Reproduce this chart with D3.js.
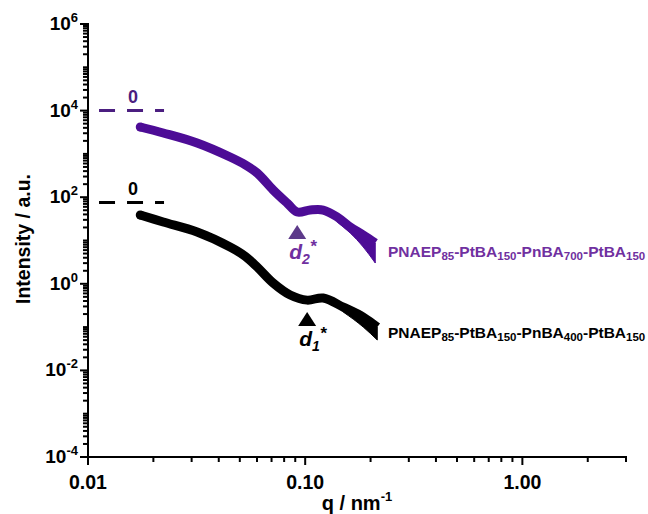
<!DOCTYPE html>
<html>
<head>
<meta charset="utf-8">
<script src="https://cdn.jsdelivr.net/npm/d3@7"></script>
<style>
  body { margin: 0; background: #fff; }
  svg { display: block; font-family: "Liberation Sans", Arial, sans-serif; font-weight: bold; }
</style>
</head>
<body>
<svg id="chart" width="648" height="514"></svg>
<script>
// SAXS curves (q in nm^-1, intensity in a.u.)
const qPurple = [0.0174, 0.0222, 0.0318, 0.0451, 0.0530, 0.0601, 0.0712, 0.0826, 0.0919, 0.1054, 0.1210, 0.1404, 0.1611, 0.1850, 0.2102];
const iPurple = [4180, 3040, 1785, 848, 560, 362, 147, 73, 45.5, 50.6, 50.6, 34.9, 20.5, 13.4, 8.75];
const qBlack = [0.0174, 0.0222, 0.0318, 0.0451, 0.0530, 0.0601, 0.0712, 0.0853, 0.1021, 0.1210, 0.1497, 0.1850, 0.2147];
const iBlack = [38.8, 26.7, 15.7, 7.07, 4.3, 2.44, 1.04, 0.55, 0.42, 0.47, 0.29, 0.171, 0.10];

// noisy high-q tail: lower edge of the point cloud (upper edge = curve)
const qTailPurple = [0.1404, 0.1611, 0.1850, 0.2102];
const purpleLo = [26.7, 14.9, 7.08, 3.02];
const qTailBlack = [0.1497, 0.1850, 0.2147];
const blackLo = [0.223, 0.1005, 0.0504];

// zero-level reference lines and peak markers
const zeroPurple = 1e4, zeroBlack = 75;
const zeroQ = [0.01124, 0.02239];
const peakQ = [0.0919, 0.1021];      // d2*, d1*
const peakI = [22.8, 0.223];

const yTicks = [1e-4, 1e-2, 1, 1e2, 1e4, 1e6];
const yExp = ["-4", "-2", "0", "2", "4", "6"];
const xTicks = [0.01, 0.1, 1];
const xLabels = ["0.01", "0.10", "1.00"];

const purple = "#4d0c96", purpleText = "#7030a0", purpleMark = "#5d3a8a";

const svg = d3.select("#chart");
const x = d3.scaleLog().domain([0.01, 3]).range([88, 626]);
const y = d3.scaleLog().domain([1e-4, 1e6]).range([457, 24]);

// minor ticks 2..9 of every decade
const minorX = [], minorY = [];
for (let e = -2; e <= 0; e++) for (let k = 1; k <= 9; k++) {
  const v = k * Math.pow(10, e);
  if (v <= 3 && !xTicks.includes(v)) minorX.push(v);
}
for (let e = -4; e < 6; e++) for (let k = 1; k <= 9; k++) {
  const v = k * Math.pow(10, e);
  if (!yTicks.some(t => Math.abs(t - v) / v < 1e-9)) minorY.push(v);
}

const axes = svg.append("g").attr("stroke", "#000").attr("stroke-width", 2);
axes.append("line").attr("x1", 88).attr("x2", 88).attr("y1", 23).attr("y2", 458);
axes.append("line").attr("x1", 87).attr("x2", 627).attr("y1", 457).attr("y2", 457);
axes.selectAll(".mx").data(minorX).enter().append("line")
  .attr("x1", d => x(d)).attr("x2", d => x(d)).attr("y1", 457).attr("y2", 462);
axes.selectAll(".Mx").data(xTicks).enter().append("line")
  .attr("x1", d => x(d)).attr("x2", d => x(d)).attr("y1", 457).attr("y2", 465);
axes.selectAll(".my").data(minorY).enter().append("line")
  .attr("y1", d => y(d)).attr("y2", d => y(d)).attr("x1", 88).attr("x2", 83);
axes.selectAll(".My").data(yTicks).enter().append("line")
  .attr("y1", d => y(d)).attr("y2", d => y(d)).attr("x1", 88).attr("x2", 80);

svg.selectAll(".xl").data(xTicks).enter().append("text")
  .attr("x", d => x(d)).attr("y", 489).attr("text-anchor", "middle")
  .attr("font-size", 19.5).text((d, i) => xLabels[i]);

const yl = svg.selectAll(".yl").data(yTicks).enter().append("text")
  .attr("x", 78).attr("y", d => y(d) + 6).attr("text-anchor", "end").attr("font-size", 19);
yl.append("tspan").text("10");
yl.append("tspan").attr("font-size", 13).attr("dy", -8).text((d, i) => yExp[i]);

const xt = svg.append("text").attr("x", 357).attr("y", 510).attr("text-anchor", "middle").attr("font-size", 20);
xt.append("tspan").text("q / nm");
xt.append("tspan").attr("font-size", 13).attr("dy", -9).text("-1");

svg.append("text").attr("transform", "translate(30,239) rotate(-90)")
  .attr("text-anchor", "middle").attr("font-size", 19.5).text("Intensity / a.u.");

// zero levels
const zeros = [[zeroPurple, "#4b1e80"], [zeroBlack, "#000"]];
zeros.forEach(([v, c]) => {
  svg.append("line").attr("x1", x(zeroQ[0])).attr("x2", x(zeroQ[1]))
    .attr("y1", y(v)).attr("y2", y(v)).attr("stroke", c).attr("stroke-width", 3)
    .attr("stroke-dasharray", "16,12");
  svg.append("text").attr("x", x(0.01612)).attr("y", y(v) - 8)
    .attr("text-anchor", "middle").attr("font-size", 18).attr("fill", c).text("0");
});

// curves
const line = d3.line().x(d => x(d[0])).y(d => y(d[1])).curve(d3.curveCatmullRom.alpha(0.5));
const area = d3.area().x(d => x(d[0])).y0(d => y(d[2])).y1(d => y(d[1])).curve(d3.curveMonotoneX);
const series = [
  [qPurple, iPurple, qTailPurple, purpleLo, purple],
  [qBlack, iBlack, qTailBlack, blackLo, "#000"]
];
series.forEach(([qs, is, qt, lo, c]) => {
  svg.append("path").datum(qt.map((q, i) => [q, is[qs.indexOf(q)], lo[i]]))
    .attr("d", area).attr("fill", c).attr("stroke", c).attr("stroke-width", 1);
  svg.append("path").datum(qs.map((q, i) => [q, is[i]]))
    .attr("d", line).attr("fill", "none").attr("stroke", c)
    .attr("stroke-width", 9).attr("stroke-linecap", "butt").attr("stroke-linejoin", "round");
  svg.append("circle").attr("cx", x(qs[0])).attr("cy", y(is[0])).attr("r", 4.5).attr("fill", c);
});

// peak markers
const peakCol = [purpleMark, "#000"];
const peakTxt = ["2", "1"];
peakQ.forEach((q, i) => {
  const px = x(q), py = y(peakI[i]);
  svg.append("path").attr("d", `M${px},${py}L${px + 9},${py + 14}L${px - 9},${py + 14}Z`).attr("fill", peakCol[i]);
  const t = svg.append("text").attr("x", px - 8).attr("y", py + 34)
    .attr("font-size", 21).attr("font-style", "italic").attr("fill", peakCol[i] === "#000" ? "#000" : purpleText);
  t.append("tspan").text("d");
  t.append("tspan").attr("font-size", 14).attr("dy", 5).text(peakTxt[i]);
  t.append("tspan").attr("dy", -12).attr("font-size", 17).text("*");
});

// sample labels
const labels = [
  [["PNAEP", "85", "-PtBA", "150", "-PnBA", "700", "-PtBA", "150"], 257, purpleText],
  [["PNAEP", "85", "-PtBA", "150", "-PnBA", "400", "-PtBA", "150"], 338, "#000"]
];
labels.forEach(([parts, by, c]) => {
  const t = svg.append("text").attr("x", 388).attr("y", by).attr("font-size", 15.5).attr("fill", c);
  parts.forEach((p, i) => {
    const sub = i % 2 === 1;
    t.append("tspan").attr("font-size", sub ? 11.5 : 15.5)
      .attr("dy", sub ? 3 : (i > 0 ? -3 : 0)).text(p);
  });
});
</script>
</body>
</html>
